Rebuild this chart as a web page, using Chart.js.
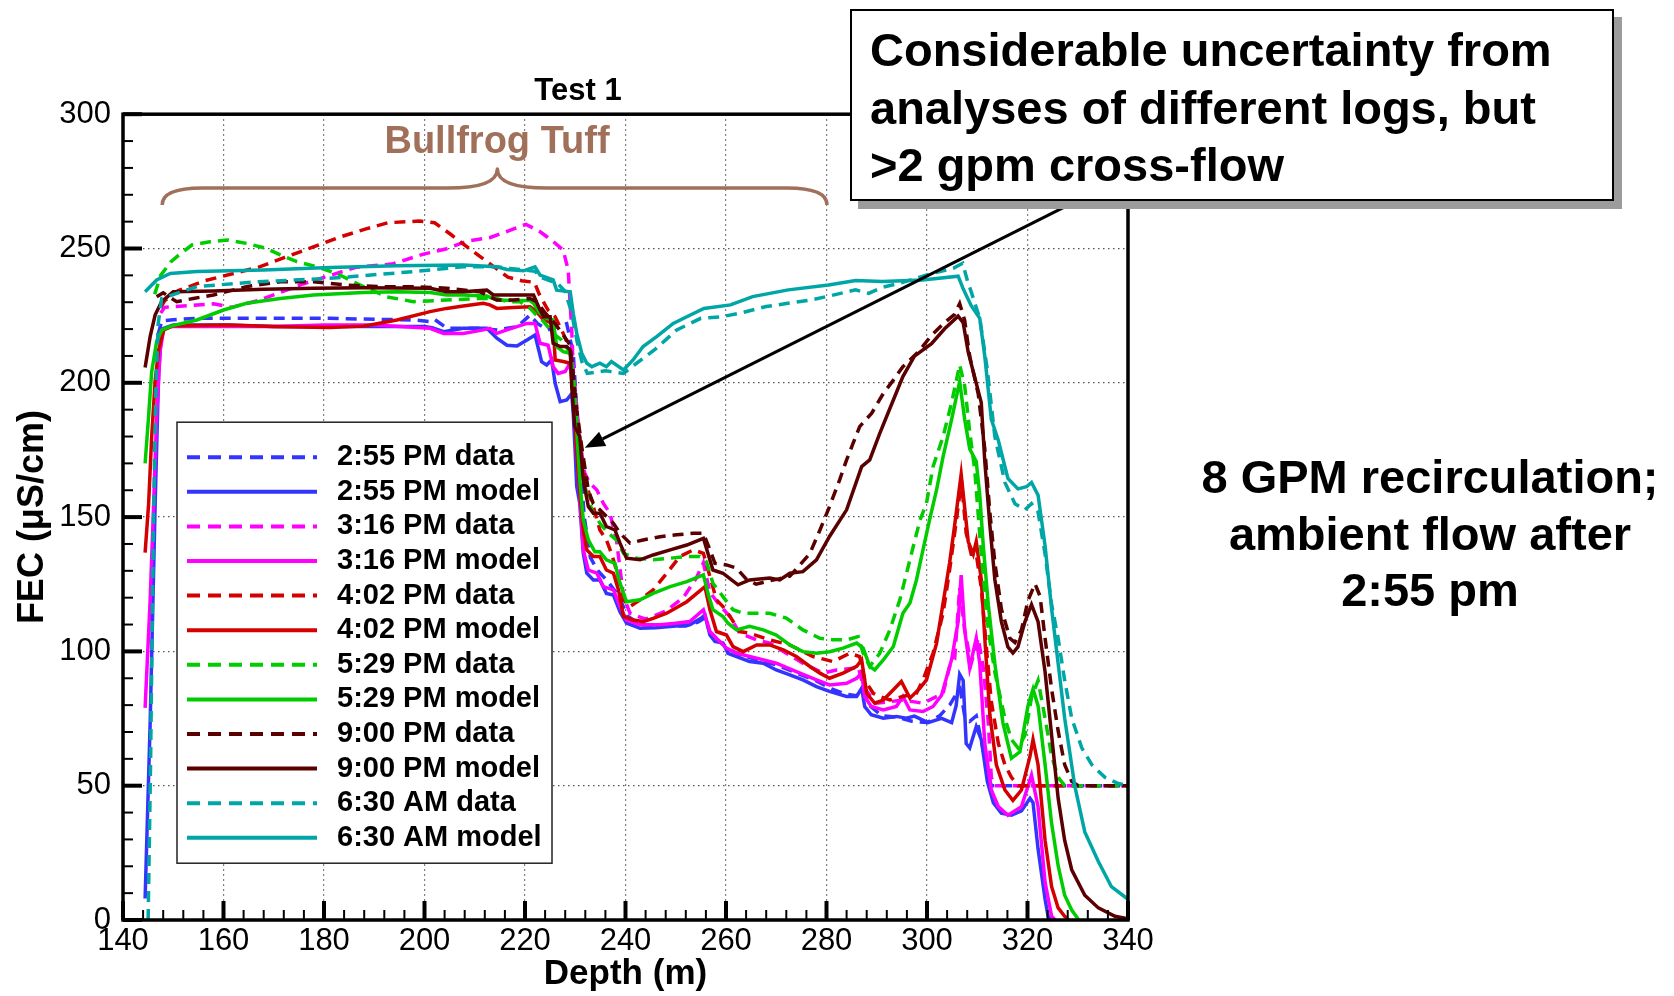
<!DOCTYPE html>
<html><head><meta charset="utf-8">
<script src="https://cdn.jsdelivr.net/npm/chart.js@4.4.1/dist/chart.umd.min.js"></script>
<style>
html,body{margin:0;padding:0;background:#fff;}
#wrap{position:relative;width:1674px;height:996px;overflow:hidden;font-family:'Liberation Sans',Arial,sans-serif;}
#c{position:absolute;left:0;top:0;}
.note{position:absolute;font-weight:bold;color:#000;white-space:nowrap;}
#bullfrog{left:347px;top:117px;width:300px;text-align:center;font-size:38px;line-height:46px;color:#a0705a;}
#callout{left:850px;top:9px;width:764px;height:192px;box-sizing:border-box;border:2px solid #000;background:#fff;box-shadow:8px 8px 0 #9c9c9c;padding:10px 0 0 18px;font-size:47px;line-height:57.5px;}
#side{left:1180px;top:449px;width:500px;text-align:center;font-size:47px;line-height:56.5px;}
</style></head>
<body>
<div id="wrap">
<canvas id="c" width="1674" height="996"></canvas>
<div class="note" id="bullfrog">Bullfrog Tuff</div>
<div class="note" id="callout">Considerable uncertainty from<br>analyses of different logs, but<br>&gt;2 gpm cross-flow</div>
<div class="note" id="side">8 GPM recirculation;<br>ambient flow after<br>2:55 pm</div>
</div>
<script>
// ---- data: [depth (m), FEC (uS/cm)] ----
const data255 = [[147.0,218],[147.7,223],[150,223.5],[155,224],[162,224],[170,224],[181,224],[191,223.6],[198,223.4],[201,222.8],[202,223.6],[204.5,220.3],[211,220.3],[214.5,219.7],[218.5,220.9],[221,225.2],[222.5,222],[224.5,219.7],[226.5,221],[228.3,222],[229.6,211],[230.3,190],[231,170],[231.8,150],[233,135],[234.5,130],[236.5,126],[238.5,121],[240.5,113],[243,110],[247,109.5],[252,109.5],[254.5,111],[255.8,112.5],[257,106],[258.5,104],[260.5,101],[262.5,99],[266,97],[270,95],[274,92],[278,89],[281,86],[284,84],[286,83.5],[287.2,86],[288.5,80],[291,76],[294,75.5],[297,74],[300,73.5],[302.5,76],[304.5,80],[305.8,84],[306.6,86],[307.5,76],[308.5,74],[309.8,76],[311,65],[312,55],[312.8,50],[340,50]];
const model255 = [[144.4,8],[145.4,73],[146.4,155],[147.1,204],[147.7,220],[150,221.5],[160,221.5],[170,221],[180,221],[190,221],[200,221],[201.5,220.5],[203.8,219],[207.7,220.3],[212.4,220.3],[214.4,216.6],[216.4,214],[218.4,213.7],[220.4,215.9],[222,217.8],[223.3,207.9],[224.3,206.6],[225.3,208.5],[226,199.8],[227,193],[228.3,193.6],[229.3,196],[229.6,188.6],[230,173.7],[230.3,161.4],[230.9,155.1],[231.6,136.5],[232.3,129.1],[233.6,126.6],[234.9,126.6],[236.2,121.6],[237.6,121],[238.9,114.8],[240.2,110.5],[242.9,108.6],[246,108.8],[250,109.5],[252.8,109.9],[255.1,112.4],[255.8,113.6],[256.8,106.1],[257.8,103.7],[259.4,103.1],[260.4,99.3],[262.1,98.1],[264.7,96.2],[267.4,95.6],[270,93.1],[272.7,91.3],[275.3,89.4],[278,86.9],[280.6,85.1],[284,83.2],[286,83.2],[287,86.3],[287.6,79.5],[288.9,76.4],[291.3,75.1],[293.9,75.8],[295.9,75.1],[297.5,75.9],[300.2,73.5],[302.9,75.1],[304.9,73.5],[305.8,79.8],[306.5,91.5],[307.2,89.2],[307.8,65.7],[308.5,64.1],[309.8,72],[310.8,67.2],[312,51.6],[313.2,43.7],[314.8,39.8],[316.8,39],[318.8,40.6],[320.5,45.3],[321.1,43.7],[322.1,26.5],[323.5,7.7],[324.1,1.4],[325,0]];
const data316 = [[147.5,226],[148.3,228.1],[153.6,228.8],[158,229.4],[161.6,228.1],[166.9,230.6],[170.5,233.1],[175.8,236.8],[181.1,239.9],[186.4,243],[193.5,244.2],[199.8,247.9],[204.2,249.8],[208.6,252.8],[213.1,254.1],[216.6,256.5],[220.2,259],[222.8,256.5],[225.5,252.8],[227.6,249.4],[228.6,242],[228.9,232],[229.3,219.7],[229.6,204.8],[230.3,191.1],[230.9,178.7],[231.9,166.3],[232.9,162.6],[234.3,160.1],[235.6,155.1],[236.9,151.4],[238.2,141.5],[239.6,120.4],[240.9,114.2],[244,112],[248,115],[251.5,120],[254,127],[255.5,133],[256.8,122],[258.8,117],[260.8,113],[262.7,106.8],[266.1,104.3],[268.7,103.1],[272,99.3],[275.3,95.6],[279.3,91.9],[282,93.1],[285.3,93.7],[286.3,94.4],[287.3,86.9],[289.9,80.7],[292.6,81.3],[295.2,81.9],[299.2,80.7],[303.2,84.4],[304.5,94.4],[305.5,97],[306.5,123.7],[307.5,108],[308.8,95.5],[310.2,104.9],[311.2,93.9],[312.2,73.5],[312.8,53.1],[313.5,50],[340,50]];
const model316 = [[144.4,79],[145.4,119],[146.1,155],[146.7,188],[147.4,212],[148.1,220],[150,221],[160,221],[170,221],[180,221.5],[190,221.5],[201.1,220.3],[203.8,218.4],[207.7,218.4],[211.7,219.7],[213,220.3],[214.4,218.4],[216.4,219.7],[220.4,222.1],[222,222.1],[223,214.7],[224.6,214],[225.6,206],[226.6,203.5],[228,204.2],[229.3,208.5],[229.6,196],[230.3,173.7],[230.9,157.6],[231.6,137.8],[232.6,130.3],[234.3,129.1],[235.6,124.1],[237.6,122.9],[238.9,116.7],[240.2,111.7],[242.9,109.9],[246.9,109.9],[250,110.5],[252.8,111.1],[255.5,115.5],[256.8,107.4],[258.1,104.9],[260.1,101.2],[262.1,99.3],[266.1,97.5],[270,95.6],[274,92.5],[278,89.4],[280.6,87.5],[284,88.1],[286,90],[287,91.9],[287.6,83.2],[288.9,79.5],[291.3,78.2],[293.9,79.5],[295.2,83.2],[296.6,78.2],[299.2,77.6],[301.2,79.5],[302.9,83.7],[304.9,97],[306.2,111.1],[306.8,128.4],[307.5,108],[308.5,93.9],[309.8,104.9],[310.5,95.5],[311.5,65.7],[312.8,48.4],[314.2,42.2],[316.1,39],[318.8,42.2],[320.8,53.9],[322.1,42.2],[323.5,14],[324.8,1.4],[325.5,0]];
const data402 = [[147.5,228],[148.3,230.6],[151,234.3],[156.3,238],[161.6,240.5],[166.9,243],[172.2,246.7],[177.6,250.4],[182.9,254.1],[188.2,257.2],[192.7,259.6],[198.9,260.2],[202,259.6],[205.2,255.3],[208.6,250.4],[213.1,244.2],[216.6,239.3],[219.3,238],[221.9,237.4],[222.8,233.1],[224.6,227],[226,224.6],[227.6,218.4],[229,212.2],[229.6,202.3],[230.3,186.2],[231.3,171.3],[232.3,161.4],[233.6,153.9],[234.9,145.2],[236.2,141.5],[237.2,136.5],[238.2,130.3],[239.6,119.2],[240.9,116.7],[242.9,119.2],[245.5,122.9],[248.2,129.1],[250.8,135.3],[253.5,137.8],[255.5,136.5],[256.8,127.9],[258.1,119.2],[259.4,116.7],[260.8,113],[262.7,107.4],[264.7,106.8],[268.7,104.3],[272.7,102.4],[277.3,98.1],[281.3,96.2],[284.6,99.3],[286.6,98.1],[287.6,89.4],[289.3,84.4],[290.6,83.2],[292.6,81.9],[295.2,83.2],[297.9,84.4],[299.2,89.4],[301.2,99.3],[303.2,114.2],[304.5,130.3],[305.5,144],[306.5,158.2],[306.8,164.4],[307.8,144],[308.8,136.2],[309.8,136.2],[310.8,123.7],[311.8,101.7],[312.8,81.3],[314.2,65.7],[315.5,57.8],[316.8,53.1],[318.1,50],[340,50]];
const model402 = [[144.4,136.8],[145.1,155],[145.7,179.6],[146.4,200.8],[147.1,212.3],[148.1,219.6],[149.7,221.2],[161.3,221.5],[171.3,220.9],[181.2,220.6],[187.8,221.1],[189.2,221.5],[194.5,223.4],[201.1,226.5],[204.4,227.7],[207.7,228.6],[211.7,229.6],[213,229],[214.4,227.7],[217.7,228],[221,228.3],[222.3,226.5],[223.7,223.4],[225.6,222.1],[226,208.5],[227.6,207.9],[229,207.3],[229.6,194.8],[230.3,173.7],[230.9,158.9],[231.6,145.2],[232.3,137.8],[233.6,135.3],[234.9,135.3],[236.2,130.3],[237.6,129.1],[238.6,122.9],[239.6,113],[241.5,111.7],[243.5,111.1],[245.5,112.3],[248.2,114.2],[252.2,118.5],[255.8,124.1],[256.8,115.5],[258.1,107.4],[260.1,106.1],[261.4,101.8],[263.4,99.9],[266.1,102.4],[268.7,102.4],[271.4,100.6],[274,98.1],[276.7,94.4],[278.7,91.9],[280.6,90],[283.3,91.9],[286,94.4],[287,96.8],[288,84.4],[289.6,80.7],[291.3,81.9],[293.3,85.7],[294.9,88.8],[296.6,82.6],[298.6,86.3],[299.9,89.4],[301.9,103],[303.2,118],[304.5,133],[305.5,147],[306.8,166],[308.2,140.9],[309.2,136.2],[309.8,140.9],[310.8,126.8],[311.5,104.9],[312.5,76.6],[313.8,57.8],[315.5,48.4],[317.1,44.5],[318.8,48.4],[320.5,61],[321.1,67.2],[322.1,57.8],[323.5,29.6],[324.8,12.4],[326.1,4.5],[327.4,1.4],[328.2,0]];
const data529 = [[146.3,233],[147.5,240],[149.5,245],[151.4,248],[153.7,251.3],[157.3,252.5],[160.7,253.2],[164.6,251.9],[168.6,250],[171.3,247.6],[174.6,245.1],[178.6,243.2],[182.5,240.7],[187.2,236.4],[192.5,232],[197.8,230.2],[204.4,230.8],[211,231.4],[214.4,231.4],[216.4,230.2],[219,230.2],[221,227.7],[222.3,225.2],[223.7,222.8],[225.6,218.4],[227.3,215.9],[229,211],[229.6,202],[230.3,186.2],[230.9,171.3],[231.9,161.4],[233.3,152.7],[234.9,147.7],[236.6,144],[238.2,141.5],[239.6,136.5],[242.2,134.7],[245.5,134.1],[248.9,134.7],[252.2,135.3],[254.8,135.3],[256.1,133.4],[257.4,125.4],[259.4,120.4],[261.4,115.5],[263.4,114.2],[266.1,114.2],[268.7,114.2],[272,112.4],[275.3,108],[278.7,104.9],[281.3,104.3],[284,104.3],[286.3,105.5],[287.3,99.3],[288.6,94.4],[290.6,99.3],[292.6,108],[294.6,119.2],[296.6,134.1],[298.6,148.9],[299.9,155.2],[301.2,168.8],[303.2,180],[304.9,192.6],[306.5,206.7],[307.5,198.9],[308.5,181.7],[309.5,167.6],[310.8,136.2],[312.2,108],[313.5,92.3],[315.5,75.1],[316.8,67.2],[318.1,64.1],[319.5,68.8],[320.8,82.9],[322.1,89.2],[323.5,75.1],[324.8,61],[326.1,53.1],[327.4,50],[340,50]];
const model529 = [[144.4,170],[145.1,187.7],[145.7,204],[146.7,215.5],[147.7,219.6],[149.7,221.2],[154.7,223.4],[160,227.1],[164.6,229.6],[171.3,231.4],[177.9,232.7],[187.8,233.6],[194.5,233.9],[201.1,233.6],[204.4,232.7],[207.7,232.7],[212.4,232.3],[214.4,230.8],[217.7,230.6],[221,230.6],[221.7,229.6],[223,225.9],[224.3,224],[225.6,223.4],[226.3,213.5],[227.6,211.6],[229,211],[229.6,202.3],[230.3,182.4],[230.9,163.8],[231.6,148.9],[232.6,141.5],[233.9,137.1],[234.9,137.1],[236.2,134.1],[237.9,132.8],[238.9,125.4],[240.2,118.5],[242.9,119.2],[245.5,121.6],[248.9,124.1],[252.2,126],[255.5,128.5],[256.4,121.7],[257.4,115.5],[259.4,113],[260.4,110.5],[262.1,108],[264.7,109.3],[267.4,108],[270,106.1],[272.7,102.4],[275.3,99.9],[278,99.3],[280.6,99.9],[283.3,101.2],[286,103.1],[287.3,101.2],[288.6,94.4],[289.6,93.1],[291.3,96.8],[293.3,101.8],[295.2,114.2],[296.6,118],[297.9,126.6],[299.2,137.8],[300.5,148.9],[301.9,160.1],[303.2,172.5],[304.9,186.4],[306.5,200.5],[307.5,186.4],[308.5,175.4],[309.8,170.7],[310.5,158.2],[311.2,139.3],[312.2,117.4],[313.5,95.5],[315.1,73.5],[316.8,60.2],[318.5,62.6],[320.1,79.8],[321.1,86],[322.1,79.8],[323.5,57.8],[324.8,35.9],[326.1,20.2],[327.4,9.2],[328.8,3.7],[330.1,0.3]];
const data900 = [[146.7,232],[148,233.5],[150,231],[150.7,230.2],[154,231.4],[158,232.7],[164.6,235.8],[171.3,237.6],[177.9,237.6],[184.5,236.4],[191.2,235.8],[197.8,235.8],[204.4,235.2],[211,233.9],[214.4,230.8],[217.7,230.8],[221,231.4],[222.5,230],[224,226],[226,222],[227.5,218],[229,214],[229.6,203],[230.3,190],[231.3,176],[232.6,160],[233.6,155],[234.9,152.7],[237.6,147.7],[238.9,144],[240.9,140.3],[243.5,141.5],[246.9,142.7],[250.2,143.4],[253.5,144],[255.5,144],[256.8,137.8],[257.8,132.8],[260.1,132.2],[262.1,131],[264,127],[266,125],[268,126],[270.5,127],[272.7,128],[274.7,132.2],[276.7,136.5],[278.7,145.2],[280.6,153.9],[282.6,163.8],[284,171.3],[285.3,177.5],[286.6,183.7],[289,188.7],[291.3,196],[293.3,201],[295.2,206],[296.6,208.5],[298.5,212],[300.9,217.7],[303.5,222.4],[305.5,225.5],[306.5,229.5],[307.5,223.2],[308.5,209.9],[310.2,195.8],[311.5,175.4],[312.5,151.9],[313.5,133.1],[314.8,115.8],[316.5,104.9],[317.5,103.3],[318.8,108],[320.1,119],[321.5,125.2],[322.5,120.5],[323.5,104.9],[324.8,86],[326.1,70.4],[327.4,57.8],[328.8,51.6],[330.1,50],[340,50]];
const model900 = [[144.4,205.7],[145.4,217.2],[146.4,225.3],[147.7,230.2],[150,233.9],[158,234.2],[168,234.8],[177.9,235.2],[187.8,235.4],[201.1,235.2],[204.4,233.9],[207.7,233.9],[212.4,234.5],[213.7,232.7],[217.7,232.7],[221.7,232.7],[222.7,228.3],[223.7,224.6],[225,224.6],[225.6,214.7],[227,213.5],[228.3,213.5],[229,212.2],[229.3,198.6],[229.9,183.7],[230.9,180],[231.6,163.8],[232.6,153.9],[233.6,151.4],[234.9,151.4],[236.2,146.5],[237.9,145.2],[238.9,140.3],[240.2,134.7],[242.9,134.1],[245.5,135.9],[248.9,137.8],[252.2,139.6],[255.5,142.1],[256.4,136.5],[257.4,130.3],[259.4,129.1],[261.1,126.6],[262.4,124.8],[264.7,126.6],[268.7,127.3],[270.7,126.6],[272.7,129.1],[275.3,129.7],[278,134.1],[280.6,142.8],[284,152.7],[287,168.8],[288.6,171.3],[290.6,181.2],[293.3,193.6],[295.2,202.3],[297.5,209.9],[300.9,214.6],[303.5,220.1],[306.2,224.8],[307.2,222.4],[308.2,211.4],[309.5,202],[310.8,192.6],[311.5,170.7],[312.5,147.2],[313.5,126.8],[314.8,111.1],[316.1,101.7],[317.1,99.4],[318.1,101.7],[319.5,111.1],[320.8,117.4],[322.1,111.1],[323.5,92.3],[324.8,68.8],[326.1,45.3],[327.4,29.6],[328.8,18.7],[331.4,9.2],[334.1,4.5],[337.4,1.4],[340,0.5]];
const data630 = [[145.0,0],[145.5,60],[146.0,140],[146.5,195],[147.0,222],[147.7,231.4],[154.7,235.8],[166.6,237.6],[181.2,238.9],[197.8,241.4],[207.7,243.2],[214.4,243.2],[217,242.6],[220,242],[222,241.5],[223.5,239],[225,238],[226.5,237],[228,234],[229.3,226],[230.3,216],[231.3,208],[232.4,203.5],[236,204.5],[239.6,203.5],[242,207],[245.8,212.3],[250.2,219.7],[255,224],[259.1,224.6],[263,226],[268,228.4],[272,229.5],[276.9,230.8],[281,232.5],[285.8,234.6],[288.4,233.3],[291,235.5],[294.7,237.1],[300,240.2],[305.3,242.7],[307.1,244.5],[308,238.3],[308.9,233.3],[310.5,224],[312,205],[313.5,180],[315.5,162.9],[317.5,155],[319.5,152.7],[320.8,155],[322.1,151.9],[323.5,136.2],[324.8,117.4],[326.1,104.9],[327.4,89.2],[328.8,75.1],[330.8,64.1],[332.8,57.8],[335.4,53.1],[338.1,50.8],[340,50]];
const model630 = [[144.4,233.9],[146.7,238.3],[149.4,240.7],[154.7,241.4],[168,242],[181.2,242.9],[194.5,243.6],[207.7,243.9],[214.4,243.2],[216.4,242.2],[219.7,241.7],[222,243.2],[223,240.1],[225.6,238.3],[226.3,234.5],[229,233.9],[229.6,225.9],[230.3,218.4],[231.3,211],[232.3,207.3],[233.3,206],[234.9,207.3],[236.2,206],[237.2,207.9],[239.6,204.8],[241.5,208.5],[243.5,213.5],[246.2,217.2],[249.5,222.1],[252.2,224.6],[255.6,227.7],[260.9,229],[265.3,232.1],[272.4,234.6],[280.4,236.4],[285.8,238.1],[291.1,237.7],[299.1,238.3],[306.2,239.7],[307.2,235],[308.8,228.7],[310.5,224],[311.5,209.9],[312.8,186.4],[314.2,178.5],[316.1,164.4],[318.1,160.5],[319.8,161.3],[320.8,162.9],[322.1,158.2],[323.5,139.3],[324.8,115.8],[326.1,95.5],[327.4,75.1],[329.4,50],[331.4,32.8],[334.1,21.8],[336.7,12.4],[340,7.7]];

const seriesLabels = ['2:55 PM data','2:55 PM model','3:16 PM data','3:16 PM model','4:02 PM data','4:02 PM model','5:29 PM data','5:29 PM model','9:00 PM data','9:00 PM model','6:30 AM data','6:30 AM model'];
const seriesValues = [data255, model255, data316, model316, data402, model402, data529, model529, data900, model900, data630, model630];
const xTickStep = 4, xMajor = 20;
const yTickStep = 10, yMajor = 50;

// ---- styles ----
const COLORS = ['#3434ff','#3434ff','#ff00ff','#ff00ff','#d40000','#d40000','#00cc00','#00cc00','#5a0000','#5a0000','#00a6a6','#00a6a6'];
const FONT = "'Liberation Sans', Arial, sans-serif";
Chart.defaults.font.family = FONT;
Chart.defaults.color = '#000';

const datasets = seriesValues.map((pts, i) => ({
  label: seriesLabels[i],
  data: pts.map(p => ({x: p[0], y: p[1]})),
  borderColor: COLORS[i],
  backgroundColor: COLORS[i],
  borderWidth: 3.5,
  borderDash: i % 2 === 0 ? [11, 7] : [],
  pointRadius: 0,
  fill: false,
  tension: 0,
  order: seriesValues.length - 1 - i
}));

const frameAndTicks = {
  id: 'frameAndTicks',
  afterDatasetsDraw(chart) {
    const {ctx, chartArea: a, scales: {x, y}} = chart;
    ctx.save();
    ctx.strokeStyle = '#000';
    x.ticks.forEach(t => {
      const major = t.value % xMajor === 0;
      const px = x.getPixelForValue(t.value);
      ctx.lineWidth = major ? 4 : 2;
      ctx.beginPath(); ctx.moveTo(px, a.bottom); ctx.lineTo(px, a.bottom - (major ? 19 : 10)); ctx.stroke();
    });
    y.ticks.forEach(t => {
      const major = t.value % yMajor === 0;
      const py = y.getPixelForValue(t.value);
      ctx.lineWidth = major ? 4 : 2;
      ctx.beginPath(); ctx.moveTo(a.left, py); ctx.lineTo(a.left + (major ? 19 : 10), py); ctx.stroke();
    });
    ctx.lineWidth = 3.5;
    ctx.strokeRect(a.left, a.top, a.right - a.left, a.bottom - a.top);
    ctx.restore();
  }
};

const boxLegend = {
  id: 'boxLegend',
  afterDatasetsDraw(chart) {
    const {ctx, chartArea: a} = chart;
    const left = a.left + 54, top = a.top + 308, w = 375, h = 441;
    ctx.save();
    ctx.fillStyle = '#fff'; ctx.fillRect(left, top, w, h);
    ctx.strokeStyle = '#222'; ctx.lineWidth = 1.5; ctx.strokeRect(left, top, w, h);
    ctx.font = 'bold 29px ' + FONT;
    ctx.textBaseline = 'middle';
    chart.data.datasets.forEach((ds, i) => {
      const cy = top + 35 + i * 34.6;
      ctx.strokeStyle = ds.borderColor; ctx.lineWidth = 4;
      ctx.setLineDash(ds.borderDash.length ? [13, 8] : []);
      ctx.beginPath(); ctx.moveTo(left + 10, cy); ctx.lineTo(left + 140, cy); ctx.stroke();
      ctx.setLineDash([]);
      ctx.fillStyle = '#000';
      ctx.fillText(ds.label, left + 160, cy);
    });
    ctx.restore();
  }
};

const annotations = {
  id: 'annotations',
  afterDraw(chart) {
    const {ctx, scales: {x, y}} = chart;
    const X = v => x.getPixelForValue(v), Y = v => y.getPixelForValue(v);
    ctx.save();
    // brace
    const l = X(147.8), r = X(280.1), c = X(214.5);
    const yEnd = Y(266.2), yArm = Y(272.5), yPeak = Y(279.6);
    ctx.strokeStyle = '#a0705a'; ctx.lineWidth = 3.5; ctx.lineJoin = 'round';
    ctx.beginPath();
    ctx.moveTo(l, yEnd);
    ctx.quadraticCurveTo(l, yArm, l + 40, yArm);
    ctx.lineTo(c - 50, yArm);
    ctx.quadraticCurveTo(c, yArm, c, yPeak);
    ctx.quadraticCurveTo(c, yArm, c + 50, yArm);
    ctx.lineTo(r - 40, yArm);
    ctx.quadraticCurveTo(r, yArm, r, yEnd);
    ctx.stroke();
    // arrow
    const tx = X(329), ty = Y(267), hx = X(231.9), hy = Y(175.8);
    const ang = Math.atan2(hy - ty, hx - tx);
    const L = 20, W = 8;
    const bx = hx - L * Math.cos(ang), by = hy - L * Math.sin(ang);
    ctx.strokeStyle = '#000'; ctx.fillStyle = '#000'; ctx.lineWidth = 3;
    ctx.beginPath(); ctx.moveTo(tx, ty); ctx.lineTo(bx, by); ctx.stroke();
    ctx.beginPath(); ctx.moveTo(hx, hy);
    ctx.lineTo(bx + W * Math.sin(ang), by - W * Math.cos(ang));
    ctx.lineTo(bx - W * Math.sin(ang), by + W * Math.cos(ang));
    ctx.closePath(); ctx.fill();
    ctx.restore();
  }
};

const gridColor = (major, lo, hi) => (ctx) => {
  const v = ctx.tick ? ctx.tick.value : null;
  return (v !== null && v % major === 0 && v !== lo && v !== hi) ? '#555' : 'rgba(0,0,0,0)';
};

new Chart(document.getElementById('c'), {
  type: 'line',
  data: {datasets},
  plugins: [frameAndTicks, boxLegend, annotations],
  options: {
    responsive: false,
    animation: false,
    devicePixelRatio: 1,
    layout: {padding: {left: 28, right: 546, top: 60, bottom: 0}},
    plugins: {
      legend: {display: false},
      tooltip: {enabled: false},
      title: {display: true, text: 'Test 1', color: '#000', font: {size: 31, weight: 'bold'}, padding: {top: 13, bottom: 4}}
    },
    scales: {
      x: {
        type: 'linear', min: 140, max: 340,
        afterFit: s => { s.height = 76; },
        ticks: {stepSize: xTickStep, autoSkip: false, maxRotation: 0, padding: 3, color: '#000', font: {size: 31},
          callback: v => (v % xMajor === 0 ? v : '')},
        grid: {drawTicks: false, lineWidth: 1.2, color: gridColor(xMajor, 140, 340)},
        border: {display: false, dash: [1.5, 3.5]},
        title: {display: true, text: 'Depth (m)', color: '#000', font: {size: 35, weight: 'bold'}, padding: {top: 0, bottom: 1}}
      },
      y: {
        type: 'linear', min: 0, max: 300,
        afterFit: s => { s.width = 95; },
        ticks: {stepSize: yTickStep, autoSkip: false, padding: 12, color: '#000', font: {size: 31},
          callback: v => (v % yMajor === 0 ? v : '')},
        grid: {drawTicks: false, lineWidth: 1.2, color: gridColor(yMajor, 0, 300)},
        border: {display: false, dash: [1.5, 3.5]},
        title: {display: true, text: 'FEC (μS/cm)', color: '#000', font: {size: 36, weight: 'bold'}, padding: {top: -17, bottom: 0}}
      }
    }
  }
});
</script>
</body></html>
